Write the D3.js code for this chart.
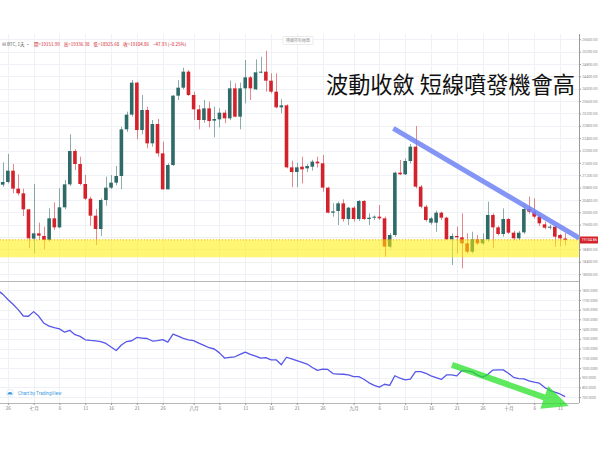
<!DOCTYPE html>
<html><head><meta charset="utf-8">
<script src="https://cdn.jsdelivr.net/npm/d3@7"></script>
<style>html,body{margin:0;padding:0;background:#fff;} svg{display:block}</style>
</head><body>
<svg id="c" width="600" height="450"></svg>
<script>
// ---------- data ----------
const startDate = "2022-06-25";
const opens  = [20894,20980,21347,20765,20614,20096,19147,19319,19233,19104,19805,19513,20161,20905,21984,21563,20916,20441,19891,19460,20398,20797,20959,21175,22685,23160,24195,22663,23311,22232,22857,21908,20743,21531,23774,24033,24551,23796,23332,22987,23364,22966,23008,23224,23041,24012,23095,24012,24368,23979,24519,24551,24260,23904,23397,23461,21455,21304,21477,21423,21477,21639,21585,20797,19988,20042,20290,19783,20150,19783,20366,19783,19826,19859,19805,18888,19265,21283,21229,21660,22124,20830,20182,19665,19665,19988,19826,19125,19233,19190,18996,18726,19125,18996,19125,19913,19513,19298,19783,19341,19158,19352,20107,20020,19860,19610,19502,19535,19266,19152];
const highs  = [21617,21887,21563,21229,20765,20110,20916,19664,19535,20128,20322,20776,21045,22523,22048,21800,21207,20506,20107,20452,21153,21207,21498,22771,23257,24281,24227,23796,23418,22987,23019,22286,21585,23796,24281,24680,24605,23904,23472,23634,23580,23418,23364,23311,24260,24173,24195,24929,24411,24950,25036,25231,24497,24497,23656,23494,21671,21606,21800,21560,21700,21800,21854,20830,20290,20344,20420,20182,20200,20400,20400,19966,19900,20236,19859,19330,21315,21692,21746,22210,22793,20884,20236,19850,20053,20020,19859,19319,19535,19966,19319,19373,19265,19319,20344,19966,19560,20128,19805,19400,19400,20300,20506,20452,19900,19700,19600,19560,19300,19336];
const lows   = [20830,20937,20614,20549,19880,18834,18672,19104,18802,19050,19427,19481,20096,20851,21369,20873,20398,19567,18942,19233,20215,20754,20873,20754,22599,23095,22361,22523,22070,22124,21800,20743,20743,21498,23634,23979,23764,22987,22685,22900,22750,22426,22750,22879,22987,23073,22685,23526,23634,23957,24497,23904,23850,23364,23203,21423,20808,20808,20937,21300,21350,21450,20667,19966,19858,19589,19697,19589,19700,19720,19750,19589,19750,19751,18564,18834,19211,21207,21207,21585,20776,20128,19697,19600,19373,19751,19104,18294,18672,18187,18672,18672,18942,18942,19050,18834,19250,19211,19300,19100,19100,19300,19950,19800,19560,19450,19450,18888,18900,18926];
const closes = [20980,21347,20765,20614,20096,19158,19319,19244,19104,19805,19513,20161,20905,21984,21563,20916,20441,19891,19460,20398,20797,20959,21175,22685,23160,24195,22663,23311,22232,22857,21908,20743,21531,23774,24033,24551,23796,23332,22987,23364,22955,23019,23224,23041,24012,23095,24012,24368,24012,24530,24551,24260,23904,23397,23461,21455,21304,21455,21390,21498,21639,21585,20797,19988,20031,20290,19783,20150,19783,20366,19783,19826,19859,19805,18888,19265,21283,21229,21660,22124,20830,20182,19751,19805,19988,19826,19125,19233,19190,18996,18726,19125,18996,19125,19913,19513,19298,19783,19341,19158,19341,20107,20020,19860,19643,19502,19535,19212,19158,19105];

const indicatorStart = "2022-06-24";
const indicator = [1800,1760,1705,1655,1600,1535,1532,1580,1532,1460,1430,1415,1402,1368,1387,1343,1325,1290,1283,1278,1272,1252,1215,1180,1236,1272,1280,1314,1308,1303,1277,1281,1292,1265,1349,1328,1304,1290,1282,1255,1232,1208,1195,1155,1102,1108,1115,1140,1162,1140,1122,1101,1106,1084,1084,1033,1110,1093,1075,1058,1040,1005,975,987,985,942,936,935,928,911,911,884,847,820,803,832,820,920,894,877,884,963,963,945,918,900,882,928,928,918,973,970,960,926,906,932,978,980,980,946,904,891,887,866,853,843,800,770,750,732,704];

const priceTicks = [18000,18400,18800,19200,19600,20000,20400,20800,21200,21600,22000,22400,22800,23200,23600,24000,24400,24800,25200,25600];
const indTicks = [700,800,900,1000,1100,1200,1300,1400,1500,1600,1700,1800];
const dayTicks = ["2022-06-26","2022-07-01","2022-07-06","2022-07-11","2022-07-16","2022-07-21","2022-07-26","2022-08-01","2022-08-06","2022-08-11","2022-08-16","2022-08-21","2022-08-26","2022-09-01","2022-09-06","2022-09-11","2022-09-16","2022-09-21","2022-09-26","2022-10-01","2022-10-06","2022-10-11"];
const monthNames = {7:"七月",8:"八月",9:"九月",10:"十月"};

const title = "波動收斂 短線噴發機會高";
const symbolLabel = "BTC, 1天 ·";
const ohlcLabels = ["開","高","低","收"];
const ohlcValues = ["19151.99","19336.38","18925.68","19104.86"];
const changeLabel = "−47.93 (−0.25%)";
const lastPrice = 19104.86;

const bandRange = [18544, 19126];
const trendLine = [["2022-09-08T17:00", 22718], ["2022-10-14T18:00", 19168]];
const greenArrow = [["2022-09-20T02:00", 1032], ["2022-10-12T17:00", 608]];

// ---------- layout ----------
const svg = d3.select("#c");
const plotL = 0, plotR = 579, topY = 34, sepY = 281.5, botY = 403;
const parse = d3.utcParse("%Y-%m-%d");
const parseT = d3.utcParse("%Y-%m-%dT%H:%M");
const d0 = parse(startDate);
const dates = opens.map((_, i) => d3.utcDay.offset(d0, i));
const x = d3.scaleUtc().domain([d0, dates[dates.length-1]]).range([2.7, 2.7 + 5.16*(dates.length-1)]);
const y = d3.scaleLinear().domain([17777, 25770]).range([281, topY]);
const yi = d3.scaleLinear().domain([639, 1890]).range([botY, sepY]);
const bw = 3.6;
const UP = "#2e6a67", DN = "#d3222b";
const gridC = "#eef1f6";

svg.append("rect").attr("width",600).attr("height",450).attr("fill","#fff");

const defs = svg.append("defs");
defs.append("clipPath").attr("id","cp1").append("rect").attr("x",0).attr("y",topY).attr("width",plotR).attr("height",sepY-topY);
defs.append("clipPath").attr("id","cp2").append("rect").attr("x",0).attr("y",sepY).attr("width",plotR).attr("height",botY-sepY);

// grid
const dayTickDates = dayTicks.map(parse);
const g = svg.append("g");
g.selectAll(".vg").data(dayTickDates).join("line")
  .attr("x1", d=>Math.round(x(d))+0.5).attr("x2", d=>Math.round(x(d))+0.5)
  .attr("y1", topY).attr("y2", botY).attr("stroke", gridC).attr("stroke-width",1);
g.selectAll(".hg").data(priceTicks).join("line")
  .attr("x1",0).attr("x2",plotR).attr("y1",d=>Math.round(y(d))+0.5).attr("y2",d=>Math.round(y(d))+0.5)
  .attr("stroke", gridC);
g.selectAll(".hg2").data(indTicks).join("line")
  .attr("x1",0).attr("x2",plotR).attr("y1",d=>Math.round(yi(d))+0.5).attr("y2",d=>Math.round(yi(d))+0.5)
  .attr("stroke", gridC);

// candles
const cg = svg.append("g").attr("clip-path","url(#cp1)");
const idx = d3.range(opens.length);
cg.selectAll(".wick").data(idx).join("line")
  .attr("x1", i=>Math.round(x(dates[i]))+0.5).attr("x2", i=>Math.round(x(dates[i]))+0.5)
  .attr("y1", i=>y(highs[i])).attr("y2", i=>y(lows[i]))
  .attr("stroke", i=> closes[i]>=opens[i]?UP:DN).attr("stroke-opacity",0.55).attr("stroke-width",1);
cg.selectAll(".body").data(idx).join("rect")
  .attr("x", i=>x(dates[i])-bw/2).attr("width", bw)
  .attr("y", i=>y(Math.max(opens[i],closes[i])))
  .attr("height", i=>Math.max(1, Math.abs(y(opens[i])-y(closes[i]))))
  .attr("fill", i=> closes[i]>=opens[i]?UP:DN);

// last price dotted line
cg.append("line").attr("x1",0).attr("x2",plotR).attr("y1",y(lastPrice)).attr("y2",y(lastPrice))
  .attr("stroke",DN).attr("stroke-dasharray","1,2").attr("stroke-opacity",0.6);

// yellow band
cg.append("rect").attr("x",0).attr("width",plotR)
  .attr("y", y(bandRange[1])).attr("height", y(bandRange[0])-y(bandRange[1]))
  .attr("fill","rgba(255,240,0,0.55)");

// trend line
cg.append("line")
  .attr("x1", x(parseT(trendLine[0][0]))).attr("y1", y(trendLine[0][1]))
  .attr("x2", x(parseT(trendLine[1][0]))).attr("y2", y(trendLine[1][1]))
  .attr("stroke","rgba(110,130,245,0.85)").attr("stroke-width",5);

// separator & axis lines
svg.append("line").attr("x1",0).attr("x2",plotR).attr("y1",sepY).attr("y2",sepY).attr("stroke","#b8b8b8").attr("stroke-width",1);
svg.append("line").attr("x1",0).attr("x2",plotR).attr("y1",botY+0.5).attr("y2",botY+0.5).attr("stroke","#b8b8b8");
svg.append("line").attr("x1",plotR+0.5).attr("x2",plotR+0.5).attr("y1",topY).attr("y2",botY).attr("stroke","#9a9a9a");

// right axis labels
const ayg = svg.append("g").attr("transform",`translate(${plotR},0)`);
const priceAxis = d3.axisRight(y).tickValues(priceTicks.filter(t=>Math.abs(y(t)-y(lastPrice))>6)).tickSize(2).tickFormat(d3.format(".2f"));
const pa = ayg.append("g").call(priceAxis);
const indAxis = d3.axisRight(yi).tickValues(indTicks).tickSize(2).tickFormat(d3.format(".4f"));
const ia = ayg.append("g").call(indAxis);
ayg.selectAll(".domain").remove();
ayg.selectAll(".tick line").attr("stroke","#9a9a9a");
ayg.selectAll(".tick text").attr("x",3).attr("fill","#8a8a8a").attr("font-family","Roboto, sans-serif");
pa.selectAll(".tick text").attr("font-size",3.7);
ia.selectAll(".tick text").attr("font-size",3.3);

// price tag
svg.append("rect").attr("x",plotR+1).attr("y",y(lastPrice)-3.5).attr("width",18).attr("height",7).attr("fill",DN).attr("rx",0.5);
svg.append("text").attr("x",plotR+2.5).attr("y",y(lastPrice)).attr("dy","0.35em").attr("font-size",3.7)
  .attr("fill","#fff").attr("font-family","Roboto, sans-serif").text(d3.format(".2f")(lastPrice));

// bottom axis
const xAxis = d3.axisBottom(x).tickValues(dayTickDates).tickSize(2)
  .tickFormat(d => d.getUTCDate()===1 ? monthNames[d.getUTCMonth()+1] : String(d.getUTCDate()));
const axg = svg.append("g").attr("transform",`translate(0,${botY})`).call(xAxis);
axg.select(".domain").remove();
axg.selectAll(".tick line").attr("stroke","#9a9a9a");
axg.selectAll(".tick text").attr("y",4).attr("font-size",4.6).attr("fill","#777").attr("font-family","'Noto Sans CJK TC', Roboto, sans-serif");

// indicator line
const ig = svg.append("g").attr("clip-path","url(#cp2)");
const id0 = parse(indicatorStart);
const line = d3.line().x((d,i)=>x(d3.utcDay.offset(id0,i))).y(d=>yi(d));
ig.append("path").attr("d", line(indicator)).attr("fill","none").attr("stroke","#5656e8").attr("stroke-width",1.3).attr("stroke-linejoin","round");

// green arrow
(function(){
  const p0=[x(parseT(greenArrow[0][0])), yi(greenArrow[0][1])];
  const p1=[x(parseT(greenArrow[1][0])), yi(greenArrow[1][1])];
  const dx=p1[0]-p0[0], dy=p1[1]-p0[1], L=Math.hypot(dx,dy), ux=dx/L, uy=dy/L, nx=-uy, ny=ux;
  const hl=26, hw=12, sw=3;
  const b=[p1[0]-ux*hl, p1[1]-uy*hl];
  const pts=[[p0[0]+nx*sw,p0[1]+ny*sw],[b[0]+nx*sw,b[1]+ny*sw],[b[0]+nx*hw,b[1]+ny*hw],p1,[b[0]-nx*hw,b[1]-ny*hw],[b[0]-nx*sw,b[1]-ny*sw],[p0[0]-nx*sw,p0[1]-ny*sw]];
  svg.append("path").attr("d","M"+pts.map(p=>p.join(",")).join("L")+"Z").attr("fill","rgba(40,225,40,0.75)");
})();

// title
svg.append("text").attr("x",326).attr("y",93).attr("font-size",22.2)
  .attr("font-family","'Noto Sans CJK TC','Noto Sans CJK SC',sans-serif").attr("fill","#111").text(title);

// legend
const lg = svg.append("text").attr("x",2).attr("y",46).attr("font-size",4.5).attr("font-family","'Noto Sans CJK TC',Roboto,sans-serif");
lg.append("tspan").attr("fill","#777").text("⊟");
lg.append("tspan").attr("dx",1).attr("fill","#555").text(symbolLabel);
ohlcLabels.forEach((l,i)=>{
  lg.append("tspan").attr("dx",4).attr("fill","#d3222b").text(l+"=");
  lg.append("tspan").attr("fill","#d3222b").text(ohlcValues[i]);
});
lg.append("tspan").attr("dx",4).attr("fill","#d3222b").text(changeLabel);

// small top box
svg.append("rect").attr("x",283).attr("y",36.5).attr("width",30).attr("height",8).attr("fill","#fff").attr("stroke","#ddd").attr("stroke-width",0.6).attr("rx",1);
svg.append("text").attr("x",298).attr("y",40.5).attr("dy","0.35em").attr("text-anchor","middle").attr("font-size",4).attr("fill","#999").attr("font-family","'Noto Sans CJK TC',sans-serif").text("隱藏所有繪圖");

// watermark
svg.append("circle").attr("cx",10).attr("cy",393).attr("r",3.5).attr("fill","#fff").attr("stroke","#cfe3f7").attr("stroke-width",0.6);
svg.append("path").attr("d","M7.5,394.5 q0,-2.5 2.5,-2.5 q2.5,0 2.5,2.5 z").attr("fill","#3d9be0");
svg.append("text").attr("x",18).attr("y",393).attr("dy","0.35em").attr("font-size",4.6).attr("fill","#3d9be0").attr("font-family","Roboto,sans-serif").text("Chart by TradingView");
</script>
</body></html>
